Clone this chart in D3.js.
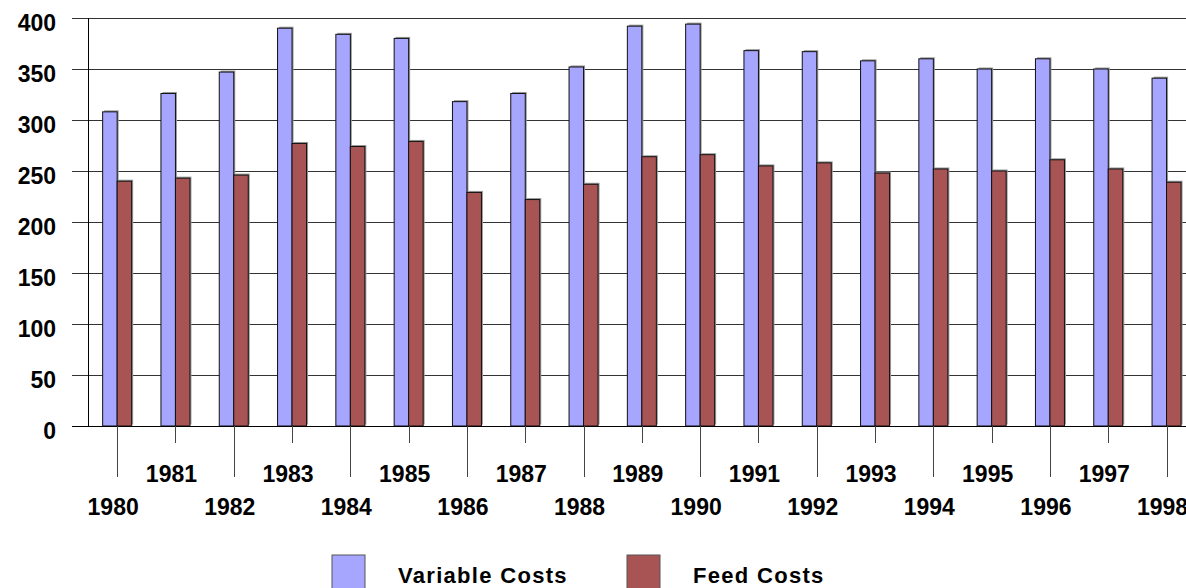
<!DOCTYPE html>
<html>
<head>
<meta charset="utf-8">
<script src="https://cdn.jsdelivr.net/npm/d3@7"></script>
<style>
  body { margin: 0; background: #fff; }
  svg { display: block; font-family: "Liberation Sans", Arial, sans-serif; }
</style>
</head>
<body>
<div id="chart"></div>
<script>
const years = ["1980","1981","1982","1983","1984","1985","1986","1987","1988","1989",
               "1990","1991","1992","1993","1994","1995","1996","1997","1998"];
const variableCosts = [308, 326, 347, 390, 384, 380, 318, 326, 352, 392,
                       394, 368, 367, 358, 360, 350, 360, 350, 341];
const feedCosts = [240, 243, 246, 277, 274, 279, 229, 222, 237, 264,
                   266, 255, 258, 248, 252, 250, 261, 252, 239];
const yTicks = [0, 50, 100, 150, 200, 250, 300, 350, 400];
const seriesNames = ["Variable Costs", "Feed Costs"];
const seriesColors = ["#a6a6ff", "#a85454"];

const width = 1186, height = 588;
const step = 58.3;

const svg = d3.select("#chart")
  .append("svg")
  .attr("width", width)
  .attr("height", height);

const x = d3.scaleBand()
  .domain(years)
  .range([88, 88 + step * years.length])
  .padding(0);

const y = d3.scaleLinear()
  .domain([0, 400])
  .range([426, 18]);

const barW = 14.5;
const center = d => x(d) + x.bandwidth() / 2;

// Gridlines
svg.append("g")
  .selectAll("line")
  .data(yTicks.filter(d => d > 0))
  .enter()
  .append("line")
  .attr("x1", 72)
  .attr("x2", width)
  .attr("y1", d => Math.round(y(d)) + 0.5)
  .attr("y2", d => Math.round(y(d)) + 0.5)
  .attr("stroke", "#333")
  .attr("stroke-width", 1.2);

// Y labels
svg.append("g")
  .selectAll("text")
  .data(yTicks)
  .enter()
  .append("text")
  .attr("x", 56)
  .attr("y", d => y(d) + 13)
  .attr("text-anchor", "end")
  .style("font-size", "23px")
  .style("font-weight", "bold")
  .text(d => d);

// Bars
const groups = svg.append("g")
  .selectAll("g")
  .data(years)
  .enter()
  .append("g");

[variableCosts, feedCosts].forEach((vals, si) => {
  const bx = (d, i) => si === 0 ? center(d) - barW : center(d);
  // shadow
  groups.append("rect")
    .attr("x", (d, i) => bx(d, i) + 1.5)
    .attr("y", (d, i) => y(vals[i]) - 1.5)
    .attr("width", barW)
    .attr("height", (d, i) => y(0) - y(vals[i]))
    .attr("fill", "#999");
  groups.append("rect")
    .attr("x", (d, i) => bx(d, i))
    .attr("y", (d, i) => y(vals[i]))
    .attr("width", barW)
    .attr("height", (d, i) => y(0) - y(vals[i]))
    .attr("fill", seriesColors[si])
    .attr("stroke", "#111")
    .attr("stroke-width", 1);
});

// Y axis line
svg.append("line")
  .attr("x1", 88.5).attr("x2", 88.5)
  .attr("y1", y(400)).attr("y2", y(0))
  .attr("stroke", "#000");

// X axis line
svg.append("line")
  .attr("x1", 72).attr("x2", width)
  .attr("y1", y(0) + 0.5).attr("y2", y(0) + 0.5)
  .attr("stroke", "#000")
  .attr("stroke-width", 1.2);

// X ticks and labels (staggered)
svg.append("g")
  .selectAll("line")
  .data(years)
  .enter()
  .append("line")
  .attr("x1", d => Math.round(center(d)) + 0.5)
  .attr("x2", d => Math.round(center(d)) + 0.5)
  .attr("y1", y(0))
  .attr("y2", (d, i) => i % 2 === 0 ? 477 : 443)
  .attr("stroke", "#444");

svg.append("g")
  .selectAll("text")
  .data(years)
  .enter()
  .append("text")
  .attr("x", d => center(d) - 4)
  .attr("y", (d, i) => i % 2 === 0 ? 515 : 482)
  .attr("text-anchor", "middle")
  .style("font-size", "23px")
  .style("font-weight", "bold")
  .text(d => d);

// Legend
const legendX = [332, 627];
const legend = svg.append("g")
  .selectAll("g")
  .data(seriesNames)
  .enter()
  .append("g")
  .attr("transform", (d, i) => `translate(${legendX[i]},555)`);

legend.append("rect")
  .attr("width", 33)
  .attr("height", 40)
  .attr("fill", (d, i) => seriesColors[i])
  .attr("stroke", "#555");

legend.append("text")
  .attr("x", 66)
  .attr("y", 28)
  .style("font-size", "22px")
  .style("font-weight", "bold")
  .style("letter-spacing", "1.3px")
  .text(d => d);
</script>
</body>
</html>
